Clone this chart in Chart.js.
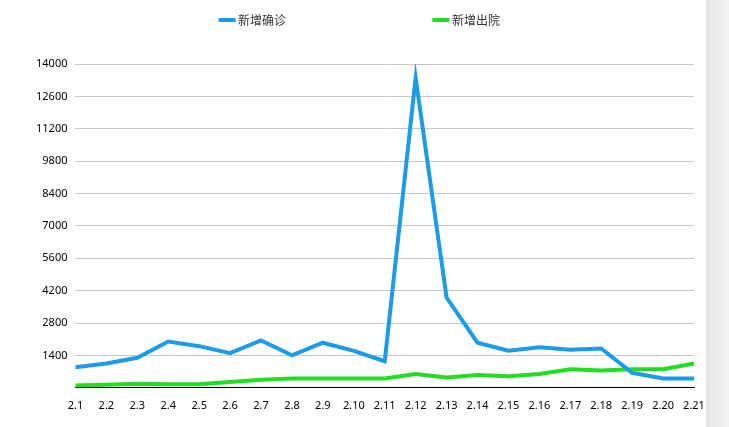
<!DOCTYPE html>
<html>
<head>
<meta charset="utf-8">
<script src="https://cdn.jsdelivr.net/npm/chart.js@4/dist/chart.umd.min.js"></script>
<style>
  body { margin: 0; background: #fff; overflow: hidden; }
  #wrap { position: absolute; left: 0; top: 0; width: 708px; height: 427px; }
  #shade { position: absolute; left: 706px; top: 0; width: 23px; height: 427px;
           background: linear-gradient(to right, #e6e6e6, #f2f2f2); }
</style>
</head>
<body>
<div id="wrap"><canvas id="c"></canvas></div>
<div id="shade"></div>
<script>
const days = ['2.1','2.2','2.3','2.4','2.5','2.6','2.7','2.8','2.9','2.10','2.11',
              '2.12','2.13','2.14','2.15','2.16','2.17','2.18','2.19','2.20','2.21'];
const confirmed = [890, 1050, 1300, 2000, 1800, 1500, 2050, 1400, 1950, 1600, 1150,
                   13400, 3900, 1950, 1600, 1750, 1650, 1700, 650, 400, 400];
const discharged = [100, 130, 180, 150, 150, 250, 350, 400, 400, 400, 400,
                    600, 450, 550, 500, 600, 800, 750, 800, 800, 1050];

// extra room under the legend
const legendGap = {
    id: 'legendGap',
    beforeInit(chart) {
        const fit = chart.legend.fit;
        chart.legend.fit = function () {
            fit.bind(chart.legend)();
            this.height += 28;
        };
    }
};

new Chart(document.getElementById('c'), {
    type: 'line',
    data: {
        labels: days,
        datasets: [
            { label: '新增确诊', data: confirmed, borderColor: '#1b9be8', backgroundColor: '#1b9be8',
              borderWidth: 4, pointRadius: 0, tension: 0, fill: false },
            { label: '新增出院', data: discharged, borderColor: '#22dd22', backgroundColor: '#22dd22',
              borderWidth: 4, pointRadius: 0, tension: 0, fill: false }
        ]
    },
    plugins: [legendGap],
    options: {
        responsive: true,
        maintainAspectRatio: false,
        animation: false,
        layout: { padding: { left: 28, right: 14, top: 4, bottom: 12 } },
        plugins: {
            legend: {
                display: true,
                position: 'top',
                labels: {
                    usePointStyle: true, pointStyle: 'line', boxWidth: 10,
                    padding: 10, color: '#333',
                    font: { family: 'Noto Sans CJK SC', size: 12 },
                    generateLabels: chart => Chart.defaults.plugins.legend.labels.generateLabels(chart)
                        .map((l, i) => ({ ...l, text: l.text + (i === 0 ? '                                                    ' : '') }))
                }
            },
            tooltip: { enabled: false }
        },
        scales: {
            x: {
                offset: false,
                grid: { display: false },
                border: { display: true, color: '#000', width: 1 },
                ticks: { color: '#000', maxRotation: 0, autoSkip: false,
                         font: { family: 'Noto Sans', size: 11 } }
            },
            y: {
                min: 0, max: 14000,
                grid: { color: '#c8c8c8', drawTicks: false },
                border: { display: false },
                ticks: { stepSize: 1400, padding: 8, color: '#000',
                         font: { family: 'Noto Sans', size: 11 },
                         callback: v => v === 0 ? '' : v }
            }
        }
    }
});
</script>
</body>
</html>
